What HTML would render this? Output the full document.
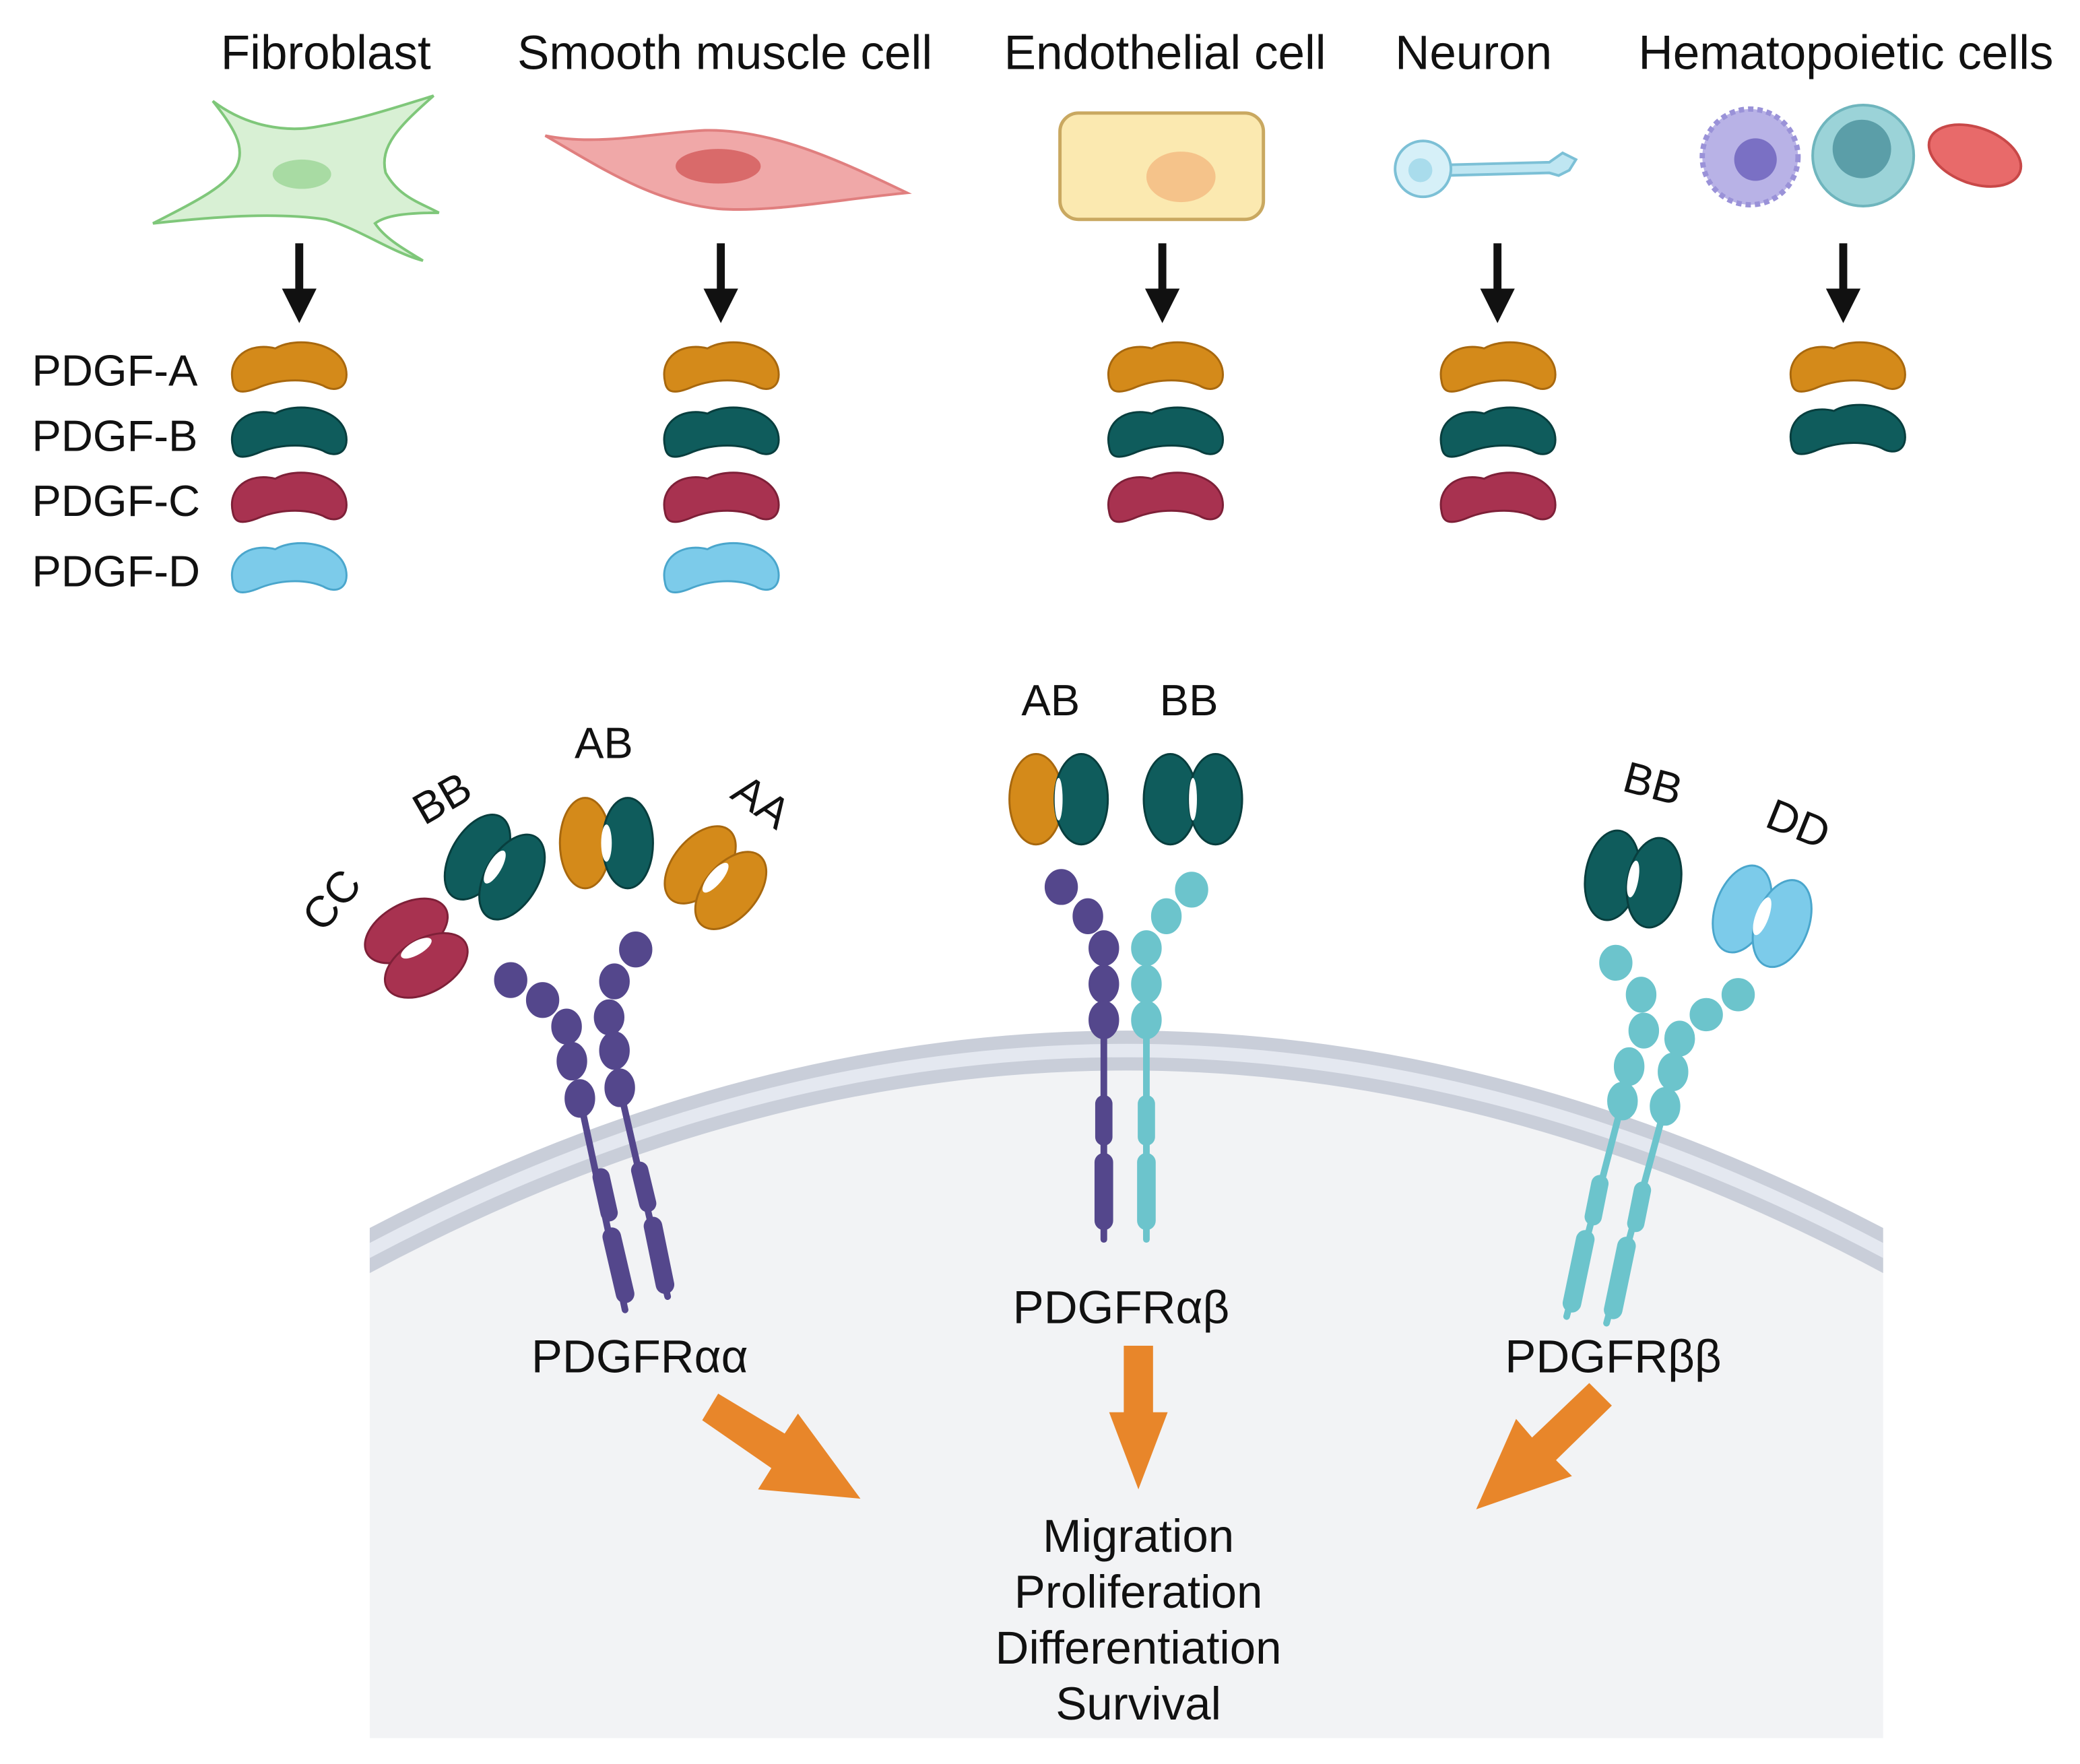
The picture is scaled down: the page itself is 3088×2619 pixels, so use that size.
<!DOCTYPE html>
<html><head><meta charset="utf-8"><style>
html,body{margin:0;padding:0;background:#fff;}
svg{display:block;}
text{font-family:"Liberation Sans",sans-serif;fill:#111;}
</style></head><body>
<svg width="3088" height="2619" viewBox="0 0 1564 1326.5" xmlns="http://www.w3.org/2000/svg">
<defs>
<path id="blob" d="M-42,10 C-46,-8 -30,-20 -10,-15 C5,-24 38,-20 43,0 C46,14 36,19 26,13 C12,7 -8,8 -24,15 C-37,20 -41,17 -42,10Z"/>
<g id="arr"><line x1="0" y1="0" x2="0" y2="40" stroke="#111" stroke-width="6"/><path d="M-13,34 L13,34 L0,60Z" fill="#111"/></g>
<clipPath id="cp"><rect x="278" y="600" width="1138" height="720"/></clipPath>
</defs>
<!-- cell interior -->
<g clip-path="url(#cp)">
<path d="M260,950 Q847,630 1434,950 L1434,1306 L260,1306Z" fill="#f2f3f5"/>
<path d="M260,950 Q847,630 1434,950" fill="none" stroke="#c9ced9" stroke-width="30"/>
<path d="M260,950 Q847,630 1434,950" fill="none" stroke="#e4e8f0" stroke-width="10"/>
</g>
<rect x="278" y="1306" width="1138" height="1" fill="#f2f3f5"/>

<!-- titles -->
<g font-size="36" text-anchor="middle">
<text x="245" y="52">Fibroblast</text>
<text x="545" y="52">Smooth muscle cell</text>
<text x="876" y="52">Endothelial cell</text>
<text x="1108" y="52">Neuron</text>
<text x="1388" y="52">Hematopoietic cells</text>
</g>
<!-- cells -->
<path d="M160,76 C185,95 215,100 240,95 C270,90 300,80 326,72 C300,95 285,110 290,130 C300,148 315,152 330,160 C305,160 290,162 282,168 C290,180 305,188 318,196 C295,190 270,172 245,165 C210,160 170,162 115,168 C150,150 170,140 178,125 C185,110 175,95 160,76Z" fill="#d8f0d4" stroke="#7fc77a" stroke-width="2"/>
<ellipse cx="227" cy="131" rx="22" ry="11" fill="#a8dba3"/>
<path d="M410,102 C450,110 490,100 530,98 C580,97 630,120 682,145 C630,150 580,160 540,157 C490,152 450,125 410,102Z" fill="#f0a8a8" stroke="#e07f7f" stroke-width="2"/>
<ellipse cx="540" cy="125" rx="32" ry="13" fill="#d96a6a"/>
<rect x="797" y="85" width="153" height="80" rx="14" fill="#fbe9b0" stroke="#c9a860" stroke-width="2.5"/>
<ellipse cx="888" cy="133" rx="26" ry="19" fill="#f5c38a"/>
<path d="M1086,124 L1165,122 L1175,115 L1185,120 L1180,128 L1172,132 L1165,130 L1086,132Z" fill="#bfe6f2" stroke="#7cc0d6" stroke-width="2"/>
<circle cx="1070" cy="127" r="21" fill="#d6f0f8" stroke="#7cc0d6" stroke-width="2"/>
<circle cx="1068" cy="128" r="9" fill="#a9dcec"/>
<circle cx="1316" cy="118" r="36" fill="#b8b2e6" stroke="#9a92d8" stroke-width="4" stroke-dasharray="4 3"/>
<circle cx="1320" cy="120" r="16" fill="#7a70c4"/>
<circle cx="1401" cy="117" r="38" fill="#9bd3d8" stroke="#6fb5bd" stroke-width="2"/>
<circle cx="1400" cy="112" r="22" fill="#5b9ea8"/>
<ellipse cx="1485" cy="117" rx="36" ry="21" transform="rotate(20 1485 117)" fill="#e86a6a" stroke="#c84848" stroke-width="2"/>

<!-- black arrows -->
<use href="#arr" x="225" y="183"/><use href="#arr" x="542" y="183"/><use href="#arr" x="874" y="183"/><use href="#arr" x="1126" y="183"/><use href="#arr" x="1386" y="183"/>

<!-- PDGF labels -->
<g font-size="33"><text x="24" y="290">PDGF-A</text><text x="24" y="339">PDGF-B</text><text x="24" y="388">PDGF-C</text><text x="24" y="441">PDGF-D</text></g>
<!-- blobs -->
<g stroke-width="1.5">
<g fill="#d48a1a" stroke="#a8680e"><use href="#blob" x="217" y="277"/><use href="#blob" x="542" y="277"/><use href="#blob" x="876" y="277"/><use href="#blob" x="1126" y="277"/><use href="#blob" x="1389" y="277"/></g>
<g fill="#0f5c5c" stroke="#083e3e"><use href="#blob" x="217" y="326"/><use href="#blob" x="542" y="326"/><use href="#blob" x="876" y="326"/><use href="#blob" x="1126" y="326"/><use href="#blob" x="1389" y="324"/></g>
<g fill="#a83250" stroke="#7e2038"><use href="#blob" x="217" y="375"/><use href="#blob" x="542" y="375"/><use href="#blob" x="876" y="375"/><use href="#blob" x="1126" y="375"/></g>
<g fill="#7ccbea" stroke="#4aa6cc"><use href="#blob" x="217" y="428"/><use href="#blob" x="542" y="428"/></g>
</g>

<!-- dimers -->
<g stroke-width="1.5">
<g transform="translate(313,713) rotate(60)"><ellipse cx="-15" cy="0" rx="20" ry="34" fill="#a83250" stroke="#7e2038"/><ellipse cx="15" cy="0" rx="20" ry="34" fill="#a83250" stroke="#7e2038"/><ellipse rx="5" ry="13" fill="#fff"/></g>
<g transform="translate(372,652) rotate(30)"><ellipse cx="-15" cy="0" rx="20" ry="35" fill="#0f5c5c" stroke="#083e3e"/><ellipse cx="15" cy="0" rx="20" ry="35" fill="#0f5c5c" stroke="#083e3e"/><ellipse rx="5" ry="14" fill="#fff"/></g>
<g transform="translate(456,634)"><ellipse cx="-16" cy="0" rx="19" ry="34" fill="#d48a1a" stroke="#a8680e"/><ellipse cx="16" cy="0" rx="19" ry="34" fill="#0f5c5c" stroke="#083e3e"/><ellipse rx="4" ry="14" fill="#fff"/></g>
<g transform="translate(538,660) rotate(40)"><ellipse cx="-15" cy="0" rx="20" ry="34" fill="#d48a1a" stroke="#a8680e"/><ellipse cx="15" cy="0" rx="20" ry="34" fill="#d48a1a" stroke="#a8680e"/><ellipse rx="5" ry="14" fill="#fff"/></g>
<g transform="translate(796,601)"><ellipse cx="-17" cy="0" rx="20" ry="34" fill="#d48a1a" stroke="#a8680e"/><ellipse cx="17" cy="0" rx="20" ry="34" fill="#0f5c5c" stroke="#083e3e"/><ellipse rx="3" ry="16" fill="#fff"/></g>
<g transform="translate(897,601)"><ellipse cx="-17" cy="0" rx="20" ry="34" fill="#0f5c5c" stroke="#083e3e"/><ellipse cx="17" cy="0" rx="20" ry="34" fill="#0f5c5c" stroke="#083e3e"/><ellipse rx="3" ry="16" fill="#fff"/></g>
<g transform="translate(1228,661) rotate(10)"><ellipse cx="-16" cy="0" rx="20" ry="34" fill="#0f5c5c" stroke="#083e3e"/><ellipse cx="16" cy="0" rx="20" ry="34" fill="#0f5c5c" stroke="#083e3e"/><ellipse rx="4" ry="14" fill="#fff"/></g>
<g transform="translate(1325,689) rotate(20)"><ellipse cx="-16" cy="0" rx="20" ry="34" fill="#7ccbea" stroke="#4aa6cc"/><ellipse cx="16" cy="0" rx="20" ry="34" fill="#7ccbea" stroke="#4aa6cc"/><ellipse rx="5" ry="15" fill="#fff"/></g>
</g>
<!-- dimer labels -->
<g font-size="33" text-anchor="middle">
<text transform="translate(258,684) rotate(-50)">CC</text>
<text transform="translate(338,610) rotate(-30)">BB</text>
<text x="454" y="570">AB</text>
<text transform="translate(566,612) rotate(35)">AA</text>
<text x="790" y="538">AB</text>
<text x="894" y="538">BB</text>
<text transform="translate(1240,600) rotate(15)">BB</text>
<text transform="translate(1348,630) rotate(22)">DD</text>
</g>

<!-- receptors -->
<g fill="#54478c" stroke="#54478c" stroke-linecap="round">
<line x1="436" y1="826" x2="470" y2="985" stroke-width="5"/>
<line x1="452" y1="885" x2="458" y2="912" stroke-width="13"/>
<line x1="460" y1="930" x2="470" y2="973" stroke-width="14"/>
<ellipse cx="384" cy="737" rx="12" ry="13"/><ellipse cx="408" cy="752" rx="12" ry="13"/><ellipse cx="426" cy="772" rx="11" ry="13"/><ellipse cx="430" cy="798" rx="11" ry="14"/><ellipse cx="436" cy="826" rx="11" ry="14"/>
<line x1="466" y1="818" x2="502" y2="975" stroke-width="5"/>
<line x1="481" y1="880" x2="487" y2="905" stroke-width="13"/>
<line x1="491" y1="922" x2="500" y2="966" stroke-width="14"/>
<ellipse cx="478" cy="714" rx="12" ry="13"/><ellipse cx="462" cy="738" rx="11" ry="13"/><ellipse cx="458" cy="765" rx="11" ry="13"/><ellipse cx="462" cy="790" rx="11" ry="14"/><ellipse cx="466" cy="818" rx="11" ry="14"/>
<line x1="830" y1="767" x2="830" y2="932" stroke-width="5"/>
<line x1="830" y1="830" x2="830" y2="855" stroke-width="13"/>
<line x1="830" y1="874" x2="830" y2="918" stroke-width="14"/>
<ellipse cx="798" cy="667" rx="12" ry="13"/><ellipse cx="818" cy="689" rx="11" ry="13"/><ellipse cx="830" cy="713" rx="11" ry="13"/><ellipse cx="830" cy="740" rx="11" ry="14"/><ellipse cx="830" cy="767" rx="11" ry="14"/>
</g>
<g fill="#6cc4cc" stroke="#6cc4cc" stroke-linecap="round">
<line x1="862" y1="767" x2="862" y2="932" stroke-width="5"/>
<line x1="862" y1="830" x2="862" y2="855" stroke-width="13"/>
<line x1="862" y1="874" x2="862" y2="918" stroke-width="14"/>
<ellipse cx="896" cy="669" rx="12" ry="13"/><ellipse cx="877" cy="689" rx="11" ry="13"/><ellipse cx="862" cy="713" rx="11" ry="13"/><ellipse cx="862" cy="740" rx="11" ry="14"/><ellipse cx="862" cy="767" rx="11" ry="14"/>
<line x1="1220" y1="828" x2="1178" y2="990" stroke-width="5"/>
<line x1="1203" y1="890" x2="1198" y2="915" stroke-width="13"/>
<line x1="1192" y1="932" x2="1182" y2="980" stroke-width="14"/>
<ellipse cx="1215" cy="724" rx="12" ry="13"/><ellipse cx="1234" cy="748" rx="11" ry="13"/><ellipse cx="1236" cy="775" rx="11" ry="13"/><ellipse cx="1225" cy="802" rx="11" ry="14"/><ellipse cx="1220" cy="828" rx="11" ry="14"/>
<line x1="1252" y1="832" x2="1208" y2="995" stroke-width="5"/>
<line x1="1235" y1="895" x2="1230" y2="920" stroke-width="13"/>
<line x1="1223" y1="937" x2="1213" y2="985" stroke-width="14"/>
<ellipse cx="1307" cy="748" rx="12" ry="12"/><ellipse cx="1283" cy="763" rx="12" ry="12"/><ellipse cx="1263" cy="781" rx="11" ry="13"/><ellipse cx="1258" cy="806" rx="11" ry="14"/><ellipse cx="1252" cy="832" rx="11" ry="14"/>
</g>

<g font-size="35" text-anchor="middle">
<text x="481" y="1032">PDGFRαα</text>
<text x="843" y="995">PDGFRαβ</text>
<text x="1213" y="1032">PDGFRββ</text>
<text x="856" y="1167">Migration</text>
<text x="856" y="1209">Proliferation</text>
<text x="856" y="1251">Differentiation</text>
<text x="856" y="1293">Survival</text>
</g>
<!-- orange arrows -->
<g fill="#e8862a">
<path d="M528,1068 L540,1048 L590,1078 L600,1063 L647,1127 L570,1120 L580,1104Z"/>
<path d="M845,1012 L867,1012 L867,1062 L878,1062 L856,1120 L834,1062 L845,1062Z"/>
<path d="M1195,1040 L1212,1057 L1170,1098 L1182,1110 L1110,1135 L1140,1067 L1152,1081Z"/>
</g>
</svg>
</body></html>
